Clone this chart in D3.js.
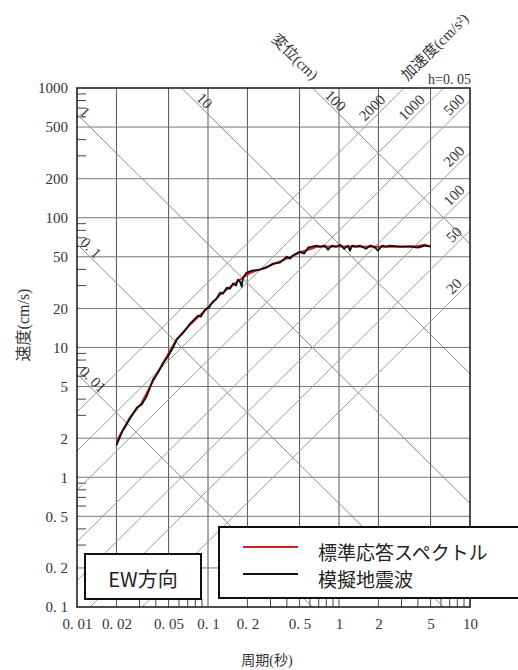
<!DOCTYPE html>
<html>
<head>
<meta charset="utf-8">
<script src="https://cdn.jsdelivr.net/npm/d3@7"></script>
<style>
  body { margin: 0; background: #fff; }
  svg { display: block; }
</style>
</head>
<body>
<div data-js-graph></div>
<script>
// axis ticks
const periodTicks = [0.01, 0.02, 0.05, 0.1, 0.2, 0.5, 1, 2, 5, 10];
const velocityTicks = [0.1, 0.2, 0.5, 1, 2, 5, 10, 20, 50, 100, 200, 500, 1000];
// tripartite guide lines
const dispLines = [0.01, 0.1, 1, 10, 100];          // cm
const accLines = [20, 50, 100, 200, 500, 1000, 2000]; // cm/s2

// 標準応答スペクトル (red)
const stdPeriod = [0.02, 0.0254, 0.0312, 0.038, 0.0454, 0.0577, 0.0729, 0.0949, 0.1235, 0.1656,
  0.209, 0.2805, 0.3737, 0.504, 0.676, 1.0, 2.0, 3.0, 4.0, 4.5, 5.0];
const stdVel = [1.89, 2.9, 3.75, 5.5, 7.6, 11.6, 15.0, 19.3, 25.5, 32.0,
  37.5, 41.8, 47.0, 54.0, 59.8, 60.0, 59.8, 59.8, 60.5, 61.8, 60.0];

// 模擬地震波 (black)
const simPeriod = [0.020, 0.022, 0.0254, 0.0287, 0.0312, 0.034, 0.0361, 0.038, 0.0415, 0.0453,
  0.0495, 0.0541, 0.0577, 0.063, 0.0679, 0.0729, 0.0782, 0.0839, 0.0884, 0.0949,
  0.1018, 0.1092, 0.1151, 0.1235, 0.1302, 0.1389, 0.1472, 0.1551, 0.1636, 0.1694,
  0.1755, 0.1809, 0.1851, 0.1975, 0.2167, 0.2494, 0.2806, 0.3135, 0.3544, 0.399,
  0.4227, 0.4535, 0.504, 0.5405, 0.5799, 0.6222, 0.6757, 0.716, 0.7817, 0.8241,
  0.8842, 0.9487, 1.018, 1.092, 1.171, 1.213, 1.257, 1.349, 1.447, 1.607,
  1.724, 1.85, 1.985, 2.129, 2.285, 2.451, 2.922, 3.483, 4.01, 4.535, 5.0];
const simVel = [1.76, 2.22, 2.84, 3.45, 3.64, 4.2, 4.92, 5.67, 6.42, 7.53,
  8.53, 10.0, 11.5, 12.6, 13.8, 15.3, 16.4, 17.6, 17.3, 19.6,
  20.3, 22.6, 23.4, 26.5, 26.0, 28.9, 28.4, 31.1, 30.0, 33.4,
  32.2, 29.5, 34.6, 37.8, 39.1, 39.8, 41.3, 44.3, 45.1, 50.1,
  48.4, 51.9, 54.8, 52.9, 58.8, 59.8, 60.9, 59.8, 60.9, 56.7,
  60.9, 59.8, 62.0, 57.7, 60.9, 55.8, 60.9, 59.8, 60.9, 57.7,
  60.9, 59.8, 55.8, 60.9, 59.8, 60.9, 59.8, 59.8, 58.8, 60.9, 59.8];

const legendItems = [
  { label: '標準応答スペクトル', color: '#d0201c' },
  { label: '模擬地震波', color: '#111' },
];

const SETTING = {
  width: 518,
  height: 670,
  left: 77,
  right: 470,
  top: 88,
  bottom: 607,
};

const serif = '"Liberation Serif", "Noto Sans CJK JP", serif';
const sans = '"Noto Sans CJK JP", sans-serif';
const TWO_PI = 2 * Math.PI;

const svg = d3.select('[data-js-graph]').append('svg')
  .attr('width', SETTING.width)
  .attr('height', SETTING.height);

const x = d3.scaleLog().domain([0.01, 10]).range([SETTING.left, SETTING.right]);
const y = d3.scaleLog().domain([0.1, 1000]).range([SETTING.bottom, SETTING.top]);

svg.append('clipPath').attr('id', 'plot-clip')
  .append('rect')
  .attr('x', SETTING.left)
  .attr('y', SETTING.top)
  .attr('width', SETTING.right - SETTING.left)
  .attr('height', SETTING.bottom - SETTING.top);

const fmt = (v) => (v < 1 ? String(v).replace('.', '. ') : String(v));

// grid
const grid = svg.append('g').attr('data-type', 'grid');
grid.selectAll('line.v')
  .data(periodTicks.slice(1, -1))
  .join('line')
  .attr('x1', (d) => x(d)).attr('x2', (d) => x(d))
  .attr('y1', SETTING.top).attr('y2', SETTING.bottom)
  .attr('stroke', '#555').attr('stroke-width', 1);
grid.selectAll('line.h')
  .data(velocityTicks.slice(1, -1))
  .join('line')
  .attr('x1', SETTING.left).attr('x2', SETTING.right)
  .attr('y1', (d) => y(d)).attr('y2', (d) => y(d))
  .attr('stroke', '#777').attr('stroke-width', 1);

// minor ticks (3,4,6,7,8,9 of each decade)
const mult = [3, 4, 6, 7, 8, 9];
const minorX = [0.01, 0.1, 1].flatMap((b) => mult.map((m) => b * m));
const minorY = [0.1, 1, 10, 100].flatMap((b) => mult.map((m) => b * m));
grid.selectAll('line.mx').data(minorX).join('line')
  .attr('x1', (d) => x(d)).attr('x2', (d) => x(d))
  .attr('y1', SETTING.bottom).attr('y2', SETTING.bottom - 8)
  .attr('stroke', '#444');
grid.selectAll('line.my').data(minorY).join('line')
  .attr('x1', SETTING.left).attr('x2', SETTING.left + 9)
  .attr('y1', (d) => y(d)).attr('y2', (d) => y(d))
  .attr('stroke', '#444');

// tripartite diagonals
const diag = svg.append('g').attr('clip-path', 'url(#plot-clip)');
const lineGen = d3.line().x((d) => x(d[0])).y((d) => y(d[1]));
const dispV = (D, T) => (TWO_PI * D) / T;
const accV = (A, T) => (A * T) / TWO_PI;

diag.selectAll('path.disp').data(dispLines).join('path')
  .attr('d', (D) => lineGen([[0.001, dispV(D, 0.001)], [100, dispV(D, 100)]]))
  .attr('fill', 'none').attr('stroke', '#8a8a8a').attr('stroke-width', 1);
diag.selectAll('path.acc').data(accLines).join('path')
  .attr('d', (A) => lineGen([[0.001, accV(A, 0.001)], [100, accV(A, 100)]]))
  .attr('fill', 'none').attr('stroke', '#9a9a9a').attr('stroke-width', 1);

// diagonal labels
const labels = svg.append('g')
  .attr('font-family', serif).attr('font-size', 15).attr('fill', '#333');
dispLines.forEach((D) => {
  const vLeft = dispV(D, 0.01);
  const txt = fmt(D);
  let xc;
  if (vLeft <= 1000) xc = SETTING.left + 8 + 2 * (txt.length - 1);
  else xc = x((TWO_PI * D) / 1000) + 23;
  const yc = y(dispV(D, x.invert(xc))) - 10;
  labels.append('text')
    .attr('transform', `translate(${xc},${yc}) rotate(45)`)
    .attr('text-anchor', 'middle').attr('dominant-baseline', 'central')
    .text(txt);
});
accLines.forEach((A) => {
  const vRight = accV(A, 10);
  let xc;
  if (vRight <= 1000) xc = SETTING.right - 16;
  else xc = x((TWO_PI * 1000) / A) - 32;
  const yc = y(accV(A, x.invert(xc))) - 12;
  labels.append('text')
    .attr('transform', `translate(${xc},${yc}) rotate(-45)`)
    .attr('text-anchor', 'middle').attr('dominant-baseline', 'central')
    .text(fmt(A));
});

// axes labels
const yAxis = svg.append('g')
  .attr('transform', `translate(${SETTING.left},0)`)
  .call(d3.axisLeft(y).tickValues(velocityTicks).tickFormat(fmt).tickSize(0).tickPadding(9));
const xAxis = svg.append('g')
  .attr('transform', `translate(0,${SETTING.bottom})`)
  .call(d3.axisBottom(x).tickValues(periodTicks).tickFormat(fmt).tickSize(0).tickPadding(11));
[xAxis, yAxis].forEach((ax) => {
  ax.select('.domain').remove();
  ax.selectAll('text').attr('font-family', serif).attr('font-size', 15).attr('fill', '#333');
});

// spectra
const curves = svg.append('g').attr('clip-path', 'url(#plot-clip)');
curves.append('path')
  .datum(stdPeriod.map((t, i) => [t, stdVel[i]]))
  .attr('d', lineGen)
  .attr('fill', 'none').attr('stroke', legendItems[0].color).attr('stroke-width', 2);
curves.append('path')
  .datum(simPeriod.map((t, i) => [t, simVel[i]]))
  .attr('d', lineGen)
  .attr('fill', 'none').attr('stroke', legendItems[1].color).attr('stroke-width', 1.8)
  .attr('stroke-linejoin', 'round');

// frame
svg.append('rect')
  .attr('x', SETTING.left).attr('y', SETTING.top)
  .attr('width', SETTING.right - SETTING.left).attr('height', SETTING.bottom - SETTING.top)
  .attr('fill', 'none').attr('stroke', '#222').attr('stroke-width', 1.6);

// titles
svg.append('text')
  .attr('transform', 'translate(23,325) rotate(-90)')
  .attr('text-anchor', 'middle').attr('dominant-baseline', 'central')
  .attr('font-family', serif).attr('font-size', 16).attr('fill', '#333')
  .text('速度(cm/s)');
svg.append('text')
  .attr('x', 267).attr('y', 660)
  .attr('text-anchor', 'middle').attr('dominant-baseline', 'central')
  .attr('font-family', serif).attr('font-size', 14).attr('fill', '#333')
  .text('周期(秒)');
svg.append('text')
  .attr('transform', 'translate(295,57) rotate(45)')
  .attr('text-anchor', 'middle').attr('dominant-baseline', 'central')
  .attr('font-family', serif).attr('font-size', 15).attr('fill', '#333')
  .text('変位(cm)');
svg.append('text')
  .attr('transform', 'translate(435,47) rotate(-45)')
  .attr('text-anchor', 'middle').attr('dominant-baseline', 'central')
  .attr('font-family', serif).attr('font-size', 15).attr('fill', '#333')
  .text('加速度(cm/s²)');
svg.append('text')
  .attr('x', 471).attr('y', 84)
  .attr('text-anchor', 'end')
  .attr('font-family', serif).attr('font-size', 14).attr('fill', '#333')
  .text('h=0. 05');

// EW box
const ew = svg.append('g');
ew.append('rect')
  .attr('x', 85).attr('y', 554).attr('width', 116).attr('height', 45)
  .attr('fill', '#fff').attr('stroke', '#111').attr('stroke-width', 2);
ew.append('text')
  .attr('x', 143).attr('y', 578)
  .attr('text-anchor', 'middle').attr('dominant-baseline', 'central')
  .attr('font-family', sans).attr('font-size', 20).attr('fill', '#222')
  .text('EW方向');

// legend
const legend = svg.append('g');
legend.append('rect')
  .attr('x', 219).attr('y', 527).attr('width', 330).attr('height', 71)
  .attr('fill', '#fff').attr('stroke', '#111').attr('stroke-width', 2);
const rows = legend.selectAll('g.row').data(legendItems).join('g')
  .attr('transform', (d, i) => `translate(243,${547 + i * 27})`);
rows.append('line')
  .attr('x1', 0).attr('x2', 55)
  .attr('stroke', (d) => d.color).attr('stroke-width', 2);
rows.append('text')
  .attr('x', 75).attr('y', 4)
  .attr('dominant-baseline', 'central')
  .attr('font-family', sans).attr('font-size', 19).attr('fill', '#222')
  .text((d) => d.label);
</script>
</body>
</html>
